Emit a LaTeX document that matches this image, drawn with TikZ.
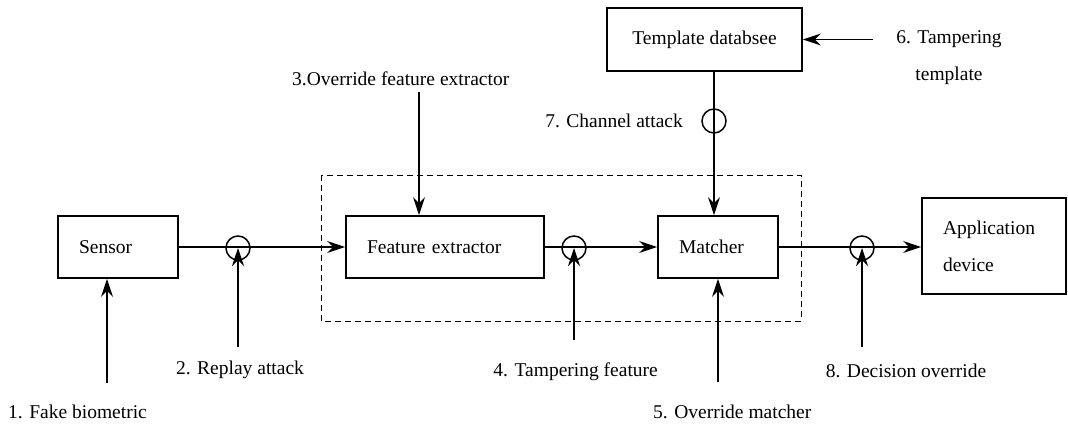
\documentclass[tikz,border=0pt]{standalone}
\usepackage{fontspec}
\setmainfont{Liberation Serif}
\usetikzlibrary{arrows.meta}
\begin{document}
\begin{tikzpicture}[x=1pt,y=-1pt,
  box/.style={draw,line width=1.8pt,inner xsep=21pt,inner ysep=0pt,align=left,minimum height=62pt},
  lbl/.style={inner sep=0pt,font=\rmfamily\fontsize{19.5}{37}\selectfont},
  ring/.style={draw,circle,line width=1.5pt,minimum size=24pt,inner sep=0pt},
  arr/.style={line width=1.3pt,-{Stealth[length=18pt,width=12pt,inset=6pt]}},
  ln/.style={line width=1.3pt}]
\useasboundingbox (0,0) rectangle (1068,424);
\fill[white] (0,0) rectangle (1068,424);
\begin{scope}[every node/.append style={font=\rmfamily\fontsize{19.5}{37}\selectfont}]
\node[box,text width=78pt] (sensor) at (118,247) {Sensor};
\node[box,text width=156pt] (fe) at (445,247) {Feature extractor};
\node[box,text width=78pt] (mat) at (718,247) {Matcher};
\node[box,text width=102pt,minimum height=96pt] (app) at (994,246) {Application\\device};
\node[draw,line width=1.8pt,minimum width=195pt,minimum height=63pt,inner sep=0pt] (db) at (704.5,39.5) {Template databsee};
\end{scope}
\draw[line width=1pt,dash pattern=on 6pt off 4pt] (321,175) rectangle (801,321);
\node[ring] (c2) at (238,248) {};
\node[ring] (c4) at (574,248) {};
\node[ring] (c8) at (862,248) {};
\node[ring] (c7) at (714,121) {};
\draw[arr] (sensor.east) -- (fe.west);
\draw[arr] (fe.east) -- (mat.west);
\draw[arr] (mat.east) -- (mat.east -| app.west);
\draw[arr] (c7 |- db.south) -- (c7 |- mat.north);
% labels
\node[lbl,anchor=west] (l1) at (8,412) {1. Fake biometric};
\node[lbl] (l2) at (240,370) {2. Replay attack};
\node[lbl,anchor=west] (l3) at (292,79) {3.Override feature extractor};
\node[lbl,anchor=east] (l4) at (658,372) {4. Tampering feature};
\node[lbl,anchor=west] (l5) at (653,412) {5. Override matcher};
\node[lbl,align=center] (l6) at (949,57.5) {6. Tampering\\template};
\node[lbl,anchor=east] (l7) at (683,121) {7. Channel attack};
\node[lbl] (l8) at (906,371) {8. Decision override};
% attack arrows
\coordinate (s1) at (107,383);
\coordinate (s2) at (238,347);
\coordinate (s3) at (419,92);
\coordinate (s4) at (574,340);
\coordinate (s5) at (718,382);
\coordinate (s6) at (873,39.5);
\coordinate (s8) at (862,347);
\draw[arr] (s1) -- (s1 |- sensor.south);
\draw[arr] (s2) -- (c2.center);
\draw[arr] (s3) -- (s3 |- fe.north);
\draw[arr] (s4) -- (c4.center);
\draw[arr] (s5) -- (s5 |- mat.south);
\draw[arr] (s6) -- (db.east);
\draw[arr] (s8) -- (c8.center);
\end{tikzpicture}
\end{document}
